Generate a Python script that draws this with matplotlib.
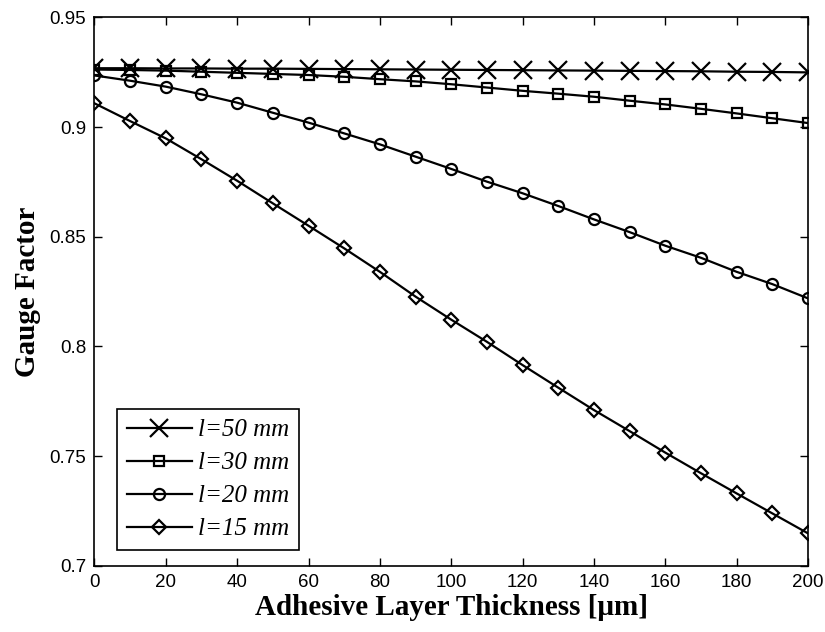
import matplotlib
matplotlib.use("Agg")
import matplotlib.pyplot as plt
import numpy as np

thickness = list(range(0, 201, 10))

gf_50mm = [0.9268, 0.9268, 0.9267, 0.9267, 0.9266, 0.9266, 0.9265, 0.9264, 0.9263, 0.9262, 0.9261,
           0.9260, 0.9259, 0.9258, 0.9257, 0.9256, 0.9255, 0.9254, 0.9252, 0.9251, 0.9249]
gf_30mm = [0.9262, 0.9260, 0.9257, 0.9252, 0.9247, 0.9242, 0.9237, 0.9229, 0.9218, 0.9208, 0.9195,
           0.9180, 0.9165, 0.9152, 0.9138, 0.9120, 0.9103, 0.9083, 0.9062, 0.9040, 0.9018]
gf_20mm = [0.9235, 0.9211, 0.9184, 0.9149, 0.9111, 0.9065, 0.9020, 0.8971, 0.8921, 0.8865, 0.8809,
           0.8751, 0.8698, 0.8640, 0.8579, 0.8521, 0.8459, 0.8404, 0.8340, 0.8284, 0.8219]
gf_15mm = [0.9108, 0.9027, 0.8948, 0.8853, 0.8755, 0.8652, 0.8550, 0.8447, 0.8340, 0.8227, 0.8122,
           0.8021, 0.7915, 0.7812, 0.7710, 0.7614, 0.7516, 0.7422, 0.7330, 0.7239, 0.7148]

labels = ["l=50 mm", "l=30 mm", "l=20 mm", "l=15 mm"]
xticks = list(range(0, 201, 20))
yticks = [0.7, 0.75, 0.8, 0.85, 0.9, 0.95]
ytick_labels = ["0.7", "0.75", "0.8", "0.85", "0.9", "0.95"]

fig = plt.figure(figsize=(8.25, 6.32), dpi=100)
ax = fig.add_axes([0.1145, 0.1047, 0.8649, 0.8679])

lw = 1.6
ax.plot(thickness, gf_50mm, color="black", lw=lw, marker="x", ms=13, mew=1.6, label=labels[0])
ax.plot(thickness, gf_30mm, color="black", lw=lw, marker="s", ms=7, mew=1.6, mfc="none", label=labels[1])
ax.plot(thickness, gf_20mm, color="black", lw=lw, marker="o", ms=8, mew=1.6, mfc="none", label=labels[2])
ax.plot(thickness, gf_15mm, color="black", lw=lw, marker="D", ms=7, mew=1.6, mfc="none", label=labels[3])

ax.set_xlim(0, 200)
ax.set_ylim(0.7, 0.95)
ax.set_xticks(xticks)
ax.set_yticks(yticks)
ax.set_yticklabels(ytick_labels)
ax.tick_params(direction="in", top=True, right=True, length=6, width=1.0,
               labelsize=13.5, pad=6)
for lab in ax.get_xticklabels() + ax.get_yticklabels():
    lab.set_fontfamily("Liberation Sans")
for sp in ax.spines.values():
    sp.set_linewidth(1.2)

ax.set_xlabel("Adhesive Layer Thickness [\u03bcm]", fontfamily="Liberation Serif",
              fontweight="bold", fontsize=21, labelpad=2)
ax.set_ylabel("Gauge Factor", fontfamily="Liberation Serif",
              fontweight="bold", fontsize=21, labelpad=6)

leg = ax.legend(loc="lower left", bbox_to_anchor=(0.0315, 0.028), borderaxespad=0,
                prop={"family": "Liberation Serif", "style": "italic", "size": 18},
                fancybox=False, edgecolor="black", framealpha=1,
                handlelength=2.6, borderpad=0.4, labelspacing=0.42, handletextpad=0.25)
leg.get_frame().set_linewidth(1.2)

fig.savefig("out.png", dpi=100)
